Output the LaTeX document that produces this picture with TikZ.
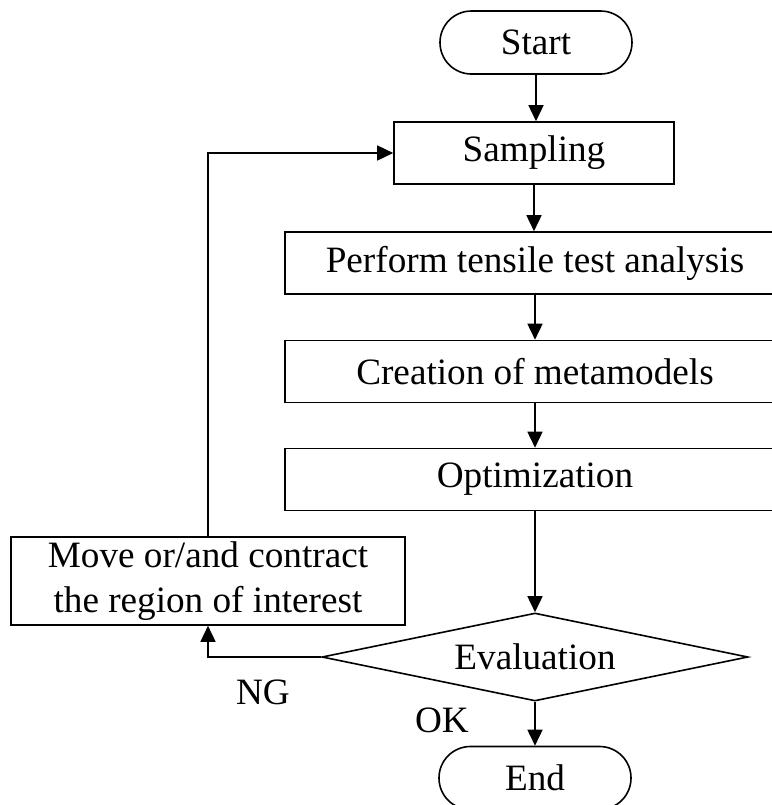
\documentclass[tikz,border=0pt]{standalone}
\usepackage{fontspec}
\setmainfont{Liberation Serif}
\usepackage{tikz}
\usetikzlibrary{positioning,arrows.meta,shapes.geometric}

\begin{document}
\begin{tikzpicture}[x=0.5pt,y=-0.5pt,
  font=\fontsize{18.6}{22.5}\selectfont,
  line width=0.8pt,
  terminal/.style={draw,rectangle,rounded corners=15.7pt,minimum width=96pt,minimum height=31.5pt,inner sep=0pt},
  process/.style={draw,rectangle,minimum height=31pt,inner sep=0pt},
  decision/.style={draw,diamond,aspect=4.84,minimum width=213pt,minimum height=44pt,inner sep=0pt},
  flow/.style={-{Triangle[length=8pt,width=7.5pt]}}]
  \useasboundingbox (0,0) rectangle (772,805);
  \clip (0,0) rectangle (772,805);
  % main column
  \node[terminal] (start) at (536,42.5) {Start};
  \node[process,minimum width=140pt] (sampling) at (534,153) {Sampling};
  \node[process,minimum width=250pt] (perform) at (535,263) {Perform tensile test analysis};
  \node[process,minimum width=250pt] (meta) at (535,371.5) {Creation of metamodels};
  \node[process,minimum width=250pt] (optim) at (535,479.5) {Optimization};
  \node[decision] (eval) at (535,657) {Evaluation};
  \node[terminal] (end) at (535,778) {End};
  % loop back
  \node[process,minimum width=197pt,minimum height=44pt,align=center] (move) at (208,581)
    {Move or/and contract\\the region of interest};
  \node (ng) at (263,692) {NG};
  \node (ok) at (442,720) {OK};

  \draw[flow] (start) -- (start |- sampling.north);
  \draw[flow] (sampling) -- (sampling |- perform.north);
  \draw[flow] (perform) -- (meta);
  \draw[flow] (meta) -- (optim);
  \draw[flow] (optim) -- (eval);
  \draw[flow] (eval) -- (end);
  \draw[flow] (eval.west) -| (move.south);
  \draw[flow] (move.north) |- (sampling.west);
\end{tikzpicture}
\end{document}
